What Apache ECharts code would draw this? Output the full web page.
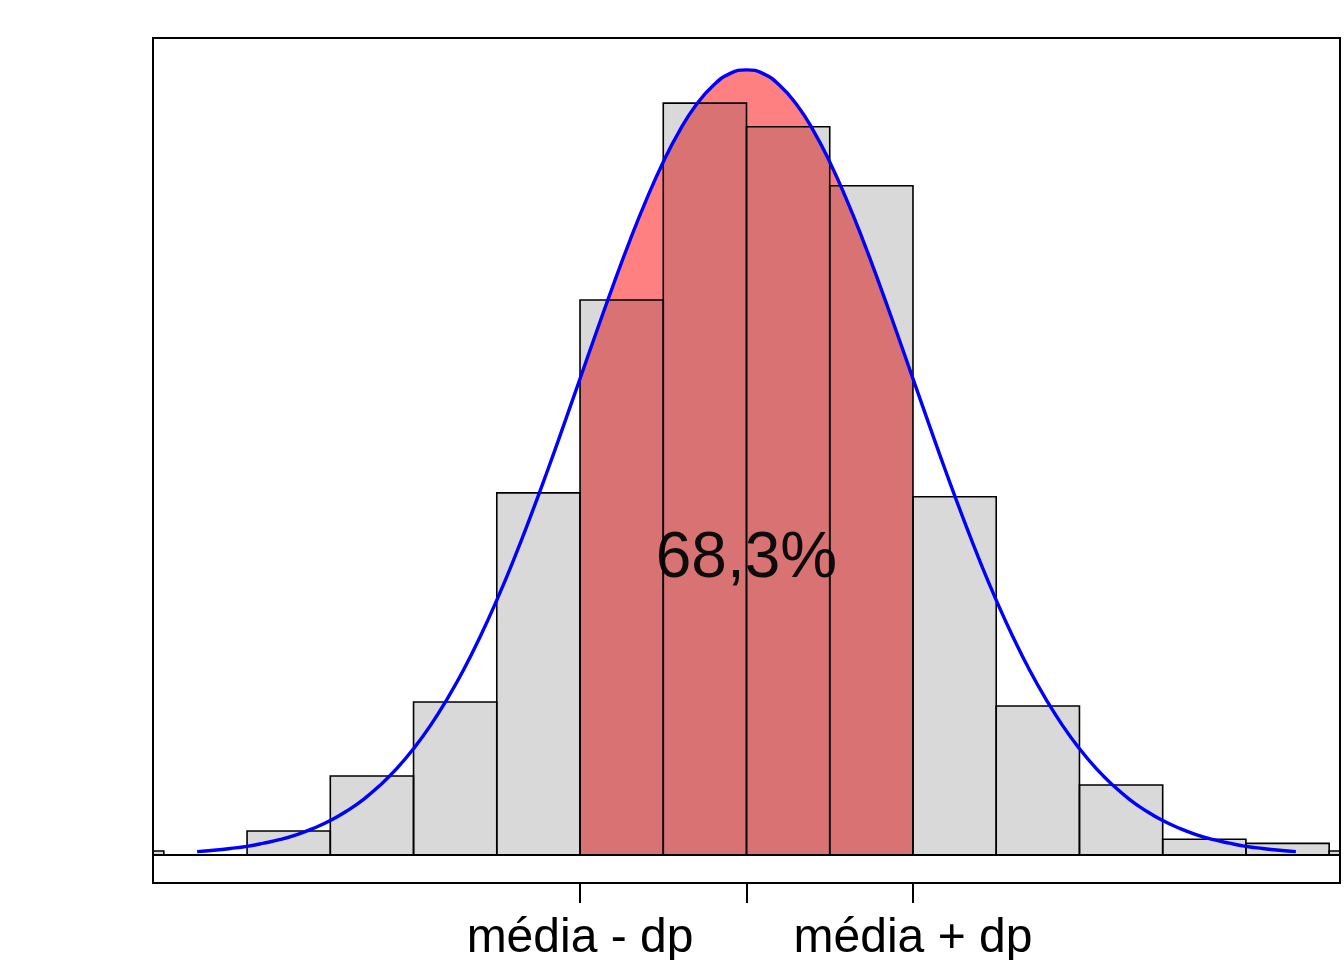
<!DOCTYPE html>
<html>
<head>
<meta charset="utf-8">
<script src="https://cdn.jsdelivr.net/npm/echarts@6/dist/echarts.min.js"></script>
<style>html,body{margin:0;padding:0;background:#fff}#c{width:1344px;height:960px}</style>
</head>
<body>
<div id="c"></div>
<script>
// Histogram bins (in standard-deviation units around the mean)
var binStart = [-4, -3.5, -3, -2.5, -2, -1.5, -1, -0.5, 0, 0.5, 1, 1.5, 2, 2.5, 3, 3.5];
var binEnd   = [-3.5, -3, -2.5, -2, -1.5, -1, -0.5, 0, 0.5, 1, 1.5, 2, 2.5, 3, 3.5, 4];
var binDensity = [0.002, 0, 0.0122, 0.0401, 0.0777, 0.184, 0.282, 0.382, 0.370, 0.340, 0.182, 0.0757, 0.0356, 0.008, 0.0059, 0.002];

// Normal curve
var curveX = [-3.3,-3.2,-3.1,-3.0,-2.9,-2.8,-2.7,-2.6,-2.5,-2.4,-2.3,-2.2,-2.1,-2.0,-1.9,-1.8,-1.7,-1.6,-1.5,-1.4,-1.3,-1.2,-1.1,-1.0,-0.9,-0.8,-0.7,-0.6,-0.5,-0.4,-0.3,-0.2,-0.1,0.0,0.1,0.2,0.3,0.4,0.5,0.6,0.7,0.8,0.9,1.0,1.1,1.2,1.3,1.4,1.5,1.6,1.7,1.8,1.9,2.0,2.1,2.2,2.3,2.4,2.5,2.6,2.7,2.8,2.9,3.0,3.1,3.2,3.3];
var curveY = [0.0017,0.0024,0.0033,0.0044,0.0060,0.0079,0.0104,0.0136,0.0175,0.0224,0.0283,0.0355,0.0440,0.0540,0.0656,0.0790,0.0940,0.1109,0.1295,0.1497,0.1714,0.1942,0.2179,0.2420,0.2661,0.2897,0.3123,0.3332,0.3521,0.3683,0.3814,0.3910,0.3970,0.3989,0.3970,0.3910,0.3814,0.3683,0.3521,0.3332,0.3123,0.2897,0.2661,0.2420,0.2179,0.1942,0.1714,0.1497,0.1295,0.1109,0.0940,0.0790,0.0656,0.0540,0.0440,0.0355,0.0283,0.0224,0.0175,0.0136,0.0104,0.0079,0.0060,0.0044,0.0033,0.0024,0.0017];

// Axis ticks and labels
var tickValues = [-1, 0, 1];
var labelValues = [-1, 1];
var labelTexts = { '-1': 'média - dp', '1': 'média + dp' };
var shadeFrom = -1, shadeTo = 1;
var pctText = '68,3%';
var pctPos = [0, 0.1504];

var histData = binStart.map(function (s, i) { return [s, binEnd[i], binDensity[i]]; });
var curveData = curveX.map(function (x, i) { return [x, curveY[i]]; });
var shadeData = curveData.filter(function (p) { return p[0] >= shadeFrom - 1e-9 && p[0] <= shadeTo + 1e-9; });

var chart = echarts.init(document.getElementById('c'), null, { renderer: 'canvas' });
var FONT = '"Liberation Sans", Arial, Helvetica, sans-serif';

chart.setOption({
  animation: false,
  backgroundColor: '#ffffff',
  grid: { left: 153, right: 4, top: 38, bottom: 77, containLabel: false, outerBoundsMode: 'none', show: true, borderColor: '#000', borderWidth: 2, backgroundColor: 'transparent' },
  xAxis: {
    type: 'value', min: -3.565, max: 3.565,
    axisLine: { show: false, onZero: false },
    splitLine: { show: false },
    axisTick: { show: true, inside: false, customValues: tickValues, length: 20, lineStyle: { color: '#000', width: 2 } },
    axisLabel: {
      show: true, customValues: labelValues, margin: 32,
      formatter: function (v) { return labelTexts[String(Math.round(v))] || ''; },
      fontSize: 48, color: '#000', fontFamily: FONT
    }
  },
  yAxis: {
    type: 'value', min: -0.01423, max: 0.4151,
    show: false, splitLine: { show: false }
  },
  series: [
    {
      type: 'line', z: 1, data: shadeData, showSymbol: false, smooth: true,
      lineStyle: { width: 0 },
      areaStyle: { color: '#FF8080', opacity: 1, origin: 'auto' },
      silent: true
    },
    {
      type: 'scatter', z: 2, data: [pctPos], symbolSize: 0,
      itemStyle: { opacity: 1 },
      label: { show: true, position: 'inside', formatter: pctText, fontSize: 64, color: '#000', opacity: 1, fontFamily: FONT },
      silent: true
    },
    {
      type: 'custom', z: 3, data: histData,
      encode: { x: [0, 1], y: 2 },
      renderItem: function (params, api) {
        var x0 = api.value(0), x1 = api.value(1), h = api.value(2);
        var p0 = api.coord([x0, h]);
        var p1 = api.coord([x1, 0]);
        var shape = echarts.graphic.clipRectByRect(
          { x: p0[0], y: p0[1], width: p1[0] - p0[0], height: p1[1] - p0[1] },
          { x: params.coordSys.x, y: params.coordSys.y, width: params.coordSys.width, height: params.coordSys.height }
        );
        if (!shape) return;
        return { type: 'rect', shape: shape, style: { fill: 'rgba(60,60,60,0.195)', stroke: '#000', lineWidth: 1.6 } };
      },
      markLine: {
        silent: true, symbol: 'none', label: { show: false },
        lineStyle: { color: '#000', width: 2, type: 'solid' },
        data: [{ yAxis: 0 }]
      }
    },
    {
      type: 'line', z: 4, data: curveData, showSymbol: false, smooth: true,
      lineStyle: { color: '#0000FF', width: 3.4 },
      silent: true
    }
  ]
});
</script>
</body>
</html>
